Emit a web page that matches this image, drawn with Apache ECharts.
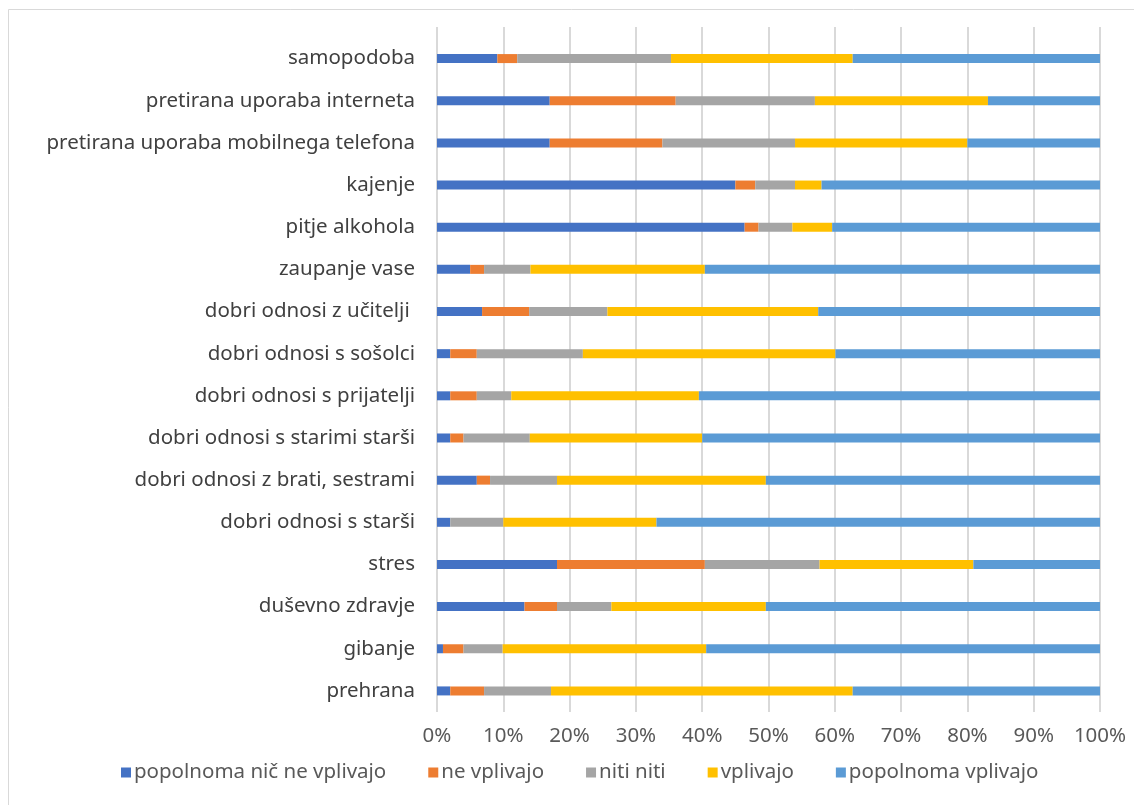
<!DOCTYPE html>
<html>
<head>
<meta charset="utf-8">
<script src="https://cdn.jsdelivr.net/npm/echarts@6/dist/echarts.min.js"></script>
<style>html,body{margin:0;padding:0;background:#fff;}#c{width:1134px;height:805px;}</style>
</head>
<body>
<div id="c"></div>
<script>
// categories bottom -> top
const categories = ["prehrana","gibanje","duševno zdravje","stres","dobri odnosi s starši","dobri odnosi z brati, sestrami","dobri odnosi s starimi starši","dobri odnosi s prijatelji","dobri odnosi s sošolci","dobri odnosi z učitelji ","zaupanje vase","pitje alkohola","kajenje","pretirana uporaba mobilnega telefona","pretirana uporaba interneta","samopodoba"];
const seriesNames = ["popolnoma nič ne vplivajo","ne vplivajo","niti niti","vplivajo","popolnoma vplivajo"];
const nicNeVplivajo = [2,0.9,13.2,18.1,2,6,2,2,2,6.8,5,46.4,45,17,17,9.1];
const neVplivajo = [5.1,3.1,4.9,22.3,0,2,2,4,4,7.1,2.1,2.1,3,17,19,3];
const nitiNiti = [10.1,5.9,8.2,17.3,8,10.1,10,5.2,16,11.8,7,5.1,6,20,21,23.2];
const vplivajo = [45.5,30.7,23.3,23.2,23.1,31.5,26,28.3,38.1,31.8,26.3,6,4,26,26.1,27.4];
const popolnomaVplivajo = [37.3,59.4,50.4,19.1,66.9,50.4,60,60.5,39.9,42.5,59.6,40.4,42,20,16.9,37.3];
const xTicks = [0,10,20,30,40,50,60,70,80,90,100];

const colors = ["#4472C4","#ED7D31","#A5A5A5","#FFC000","#5B9BD5"];
const values = [nicNeVplivajo, neVplivajo, nitiNiti, vplivajo, popolnomaVplivajo];
const font = "'Noto Sans', 'Open Sans', sans-serif";

const chart = echarts.init(document.getElementById('c'));
chart.setOption({
  animation: false,
  backgroundColor: '#fff',
  textStyle: {fontFamily: font},
  graphic: [{type:'rect', shape:{x:8.5,y:9.5,width:1140,height:810}, style:{fill:'none', stroke:'#D9D9D9', lineWidth:1}, silent:true, z:-10}],
  color: colors,
  legend: {
    bottom: 17, left: 116,
    itemWidth: 10, itemHeight: 10, itemGap: 42,
    icon: 'rect',
    textStyle: {fontSize: 20.5, color: '#595959', fontFamily: font, padding:[0,0,0,-2]},
    data: seriesNames
  },
  grid: [
    {left: 437, right: 34, top: 37.5, bottom: 93, containLabel: false},
    {left: 437, right: 34, top: 27, bottom: 93, containLabel: false}
  ],
  xAxis: [
    {type:'value', gridIndex:0, min:0, max:100, interval:10,
     axisLabel:{formatter: v => v + '%', fontSize:20.5, color:'#595959', margin:14, fontFamily: font},
     axisLine:{show:false}, axisTick:{show:false}, splitLine:{show:false}},
    {type:'value', gridIndex:1, min:0, max:100, interval:10,
     axisLabel:{show:false}, axisLine:{show:false}, axisTick:{show:false},
     splitLine:{show:true, lineStyle:{color:'#D9D9D9', width:2}}}
  ],
  yAxis: [
    {type:'category', gridIndex:0, data: categories,
     axisLabel:{fontSize:20.5, color:'#404040', margin:22, fontFamily: font},
     axisLine:{show:false}, axisTick:{show:false}},
    {type:'category', gridIndex:1, data: [''], show:false}
  ],
  series: seriesNames.map((n, i) => ({
    name: n, type:'bar', stack:'total', barWidth: 9,
    xAxisIndex:0, yAxisIndex:0,
    itemStyle:{color: colors[i]},
    data: values[i]
  }))
});
</script>
</body>
</html>
